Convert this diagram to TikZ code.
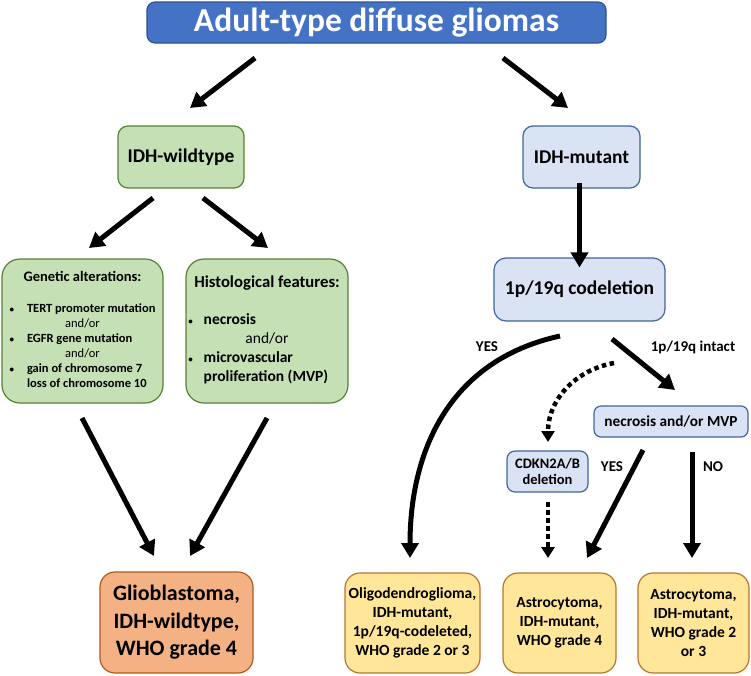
\documentclass[tikz,border=0pt]{standalone}
\usepackage{fontspec}
\setmainfont{Carlito}
\usetikzlibrary{arrows.meta,positioning}

\definecolor{titlefill}{HTML}{4472C4}
\definecolor{titleline}{HTML}{2F528F}
\definecolor{greenfill}{HTML}{C5E0B4}
\definecolor{greenline}{HTML}{548235}
\definecolor{bluefill}{HTML}{DAE3F3}
\definecolor{blueline}{HTML}{41659F}
\definecolor{orangefill}{HTML}{F4B183}
\definecolor{orangeline}{HTML}{AE5A21}
\definecolor{yellowfill}{HTML}{FFE699}
\definecolor{yellowline}{HTML}{B8742C}
\newcommand{\smallbul}{{\fontsize{9}{9}\selectfont\textbullet}}

\begin{document}
\begin{tikzpicture}[x=1pt, y=-1pt, font=\bfseries,
  box/.style={draw, rounded corners=#1, line width=1.2pt, align=center, inner sep=0pt},
  box/.default=10pt,
  greenbox/.style={box=#1, fill=greenfill, draw=greenline},
  greenbox/.default=10pt,
  bluebox/.style={box=#1, fill=bluefill, draw=blueline},
  bluebox/.default=10pt,
  yellowbox/.style={box=15pt, fill=yellowfill, draw=yellowline, minimum width=#1, minimum height=100pt,
    font=\bfseries\fontsize{15.5}{19}\selectfont},
  arr/.style={-{Triangle[length=15pt,width=17pt]}, line width=5pt},
  dotarr/.style={-{Triangle[length=11pt,width=13pt]}, line width=4.5pt, dash pattern=on 4.5pt off 3.5pt},
  lbl/.style={font=\bfseries\fontsize{15}{18}\selectfont}]
  \useasboundingbox (0,0) rectangle (751,675);

  % top
  \node[box=8pt, fill=titlefill, draw=titleline, text=white, minimum width=459pt, minimum height=41pt,
    font=\bfseries\fontsize{33.5}{38}\selectfont] (title) at (376.5,22.5) {Adult-type diffuse gliomas};
  \node[greenbox, minimum width=126pt, minimum height=62pt, font=\bfseries\fontsize{19.5}{23}\selectfont]
    (wild) at (181,157) {IDH-wildtype};
  \node[bluebox, minimum width=117pt, minimum height=62pt, font=\bfseries\fontsize{19.5}{23}\selectfont]
    (mut) at (581.5,157) {IDH-mutant};

  % IDH-wildtype branch
  \node[greenbox=18pt, minimum width=161pt, minimum height=144pt, font=\bfseries\fontsize{12.5}{15}\selectfont]
    (gen) at (82.5,331) {%
    \begin{tabular}{@{}l@{\hspace{13pt}}l@{}}
      \multicolumn{2}{c}{\fontsize{14.5}{17}\selectfont Genetic alterations:}\\[16pt]
      \smallbul & TERT promoter mutation\\
      \multicolumn{2}{c}{\mdseries and/or}\\
      \smallbul & EGFR gene mutation\\
      \multicolumn{2}{c}{\mdseries and/or}\\
      \smallbul & gain of chromosome 7\\
                & loss of chromosome 10
    \end{tabular}};
  \node[greenbox=18pt, minimum width=162pt, minimum height=144pt, font=\bfseries\fontsize{15.5}{19}\selectfont]
    (hist) at (267,331) {%
    \begin{tabular}{@{}l@{\hspace{11pt}}l@{}}
      \multicolumn{2}{c}{\fontsize{16.7}{20}\selectfont Histological features:}\\[18pt]
      \smallbul & necrosis\\
      \multicolumn{2}{c}{\mdseries and/or}\\
      \smallbul & microvascular\\
                & proliferation (MVP)
    \end{tabular}};
  \node[box=15pt, fill=orangefill, draw=orangeline, minimum width=153pt, minimum height=101pt,
    font=\bfseries\fontsize{22}{27.5}\selectfont] (gbm) at (176.5,622.5) {Glioblastoma,\\IDH-wildtype,\\WHO grade 4};

  % IDH-mutant branch
  \node[bluebox=12pt, minimum width=171pt, minimum height=63pt, font=\bfseries\fontsize{19.5}{23}\selectfont]
    (codel) at (579.5,289.5) {1p/19q codeletion};
  \node[bluebox=7pt, minimum width=154pt, minimum height=31pt, font=\bfseries\fontsize{15.3}{18}\selectfont]
    (necr) at (671,421.5) {necrosis and/or MVP};
  \node[bluebox=8pt, minimum width=81pt, minimum height=41pt, font=\bfseries\fontsize{14.5}{16}\selectfont]
    (cdkn) at (547.5,471.5) {CDKN2A/B\\deletion};
  \node[yellowbox=135pt] (oligo) at (412.5,623) {Oligodendroglioma,\\IDH-mutant,\\1p/19q-codeleted,\\WHO grade 2 or 3};
  \node[yellowbox=113pt] (astro4) at (559.5,623) {Astrocytoma,\\IDH-mutant,\\WHO grade 4};
  \node[yellowbox=111pt] (astro23) at (693.5,623) {Astrocytoma,\\IDH-mutant,\\WHO grade 2\\or 3};

  % labels
  \node[lbl] (yes1) at (487,347) {YES};
  \node[lbl] (intact) at (693,347) {1p/19q intact};
  \node[lbl] (yes2) at (612,467) {YES};
  \node[lbl] (no) at (713,467) {NO};

  % arrow ends
  \coordinate (t-w) at (255,58);   \coordinate (w-in) at (190,108);
  \coordinate (t-m) at (503,58);   \coordinate (m-in) at (568,108);
  \coordinate (w-g) at (153,198);  \coordinate (g-in) at (89,248);
  \coordinate (w-h) at (203,198);  \coordinate (h-in) at (268,248);
  \coordinate (g-out) at (82,418); \coordinate (gbm-l) at (154,556);
  \coordinate (h-out) at (267,418); \coordinate (gbm-r) at (190,556);
  \coordinate (c-yes) at (560,336); \coordinate (oligo-in) at (410,558);
  \coordinate (c-no) at (612,339); \coordinate (n-in) at (675,390);
  \coordinate (c-dot) at (614,363); \coordinate (cd-in) at (548,442);
  \coordinate (cd-out) at (548,502); \coordinate (a4-dot) at (548,558);
  \coordinate (n-yes) at (643,450); \coordinate (a4-in) at (587,558);
  \coordinate (n-no) at (692,452); \coordinate (a23-in) at (692,558);

  \draw[arr] (t-w) -- (w-in);
  \draw[arr] (t-m) -- (m-in);
  \draw[arr] ([yshift=6pt]mut.south -| codel.north) -- ([yshift=-10pt]codel.north);
  \draw[arr] (w-g) -- (g-in);
  \draw[arr] (w-h) -- (h-in);
  \draw[arr] (g-out) -- (gbm-l);
  \draw[arr] (h-out) -- (gbm-r);
  \draw[arr] (c-yes) .. controls (450,360) and (410,450) .. (oligo-in);
  \draw[arr] (c-no) -- (n-in);
  \draw[dotarr] (c-dot) .. controls (575,370) and (548,400) .. (cd-in);
  \draw[dotarr] (cd-out) -- (a4-dot);
  \draw[arr] (n-yes) -- (a4-in);
  \draw[arr] (n-no) -- (a23-in);
\end{tikzpicture}
\end{document}
